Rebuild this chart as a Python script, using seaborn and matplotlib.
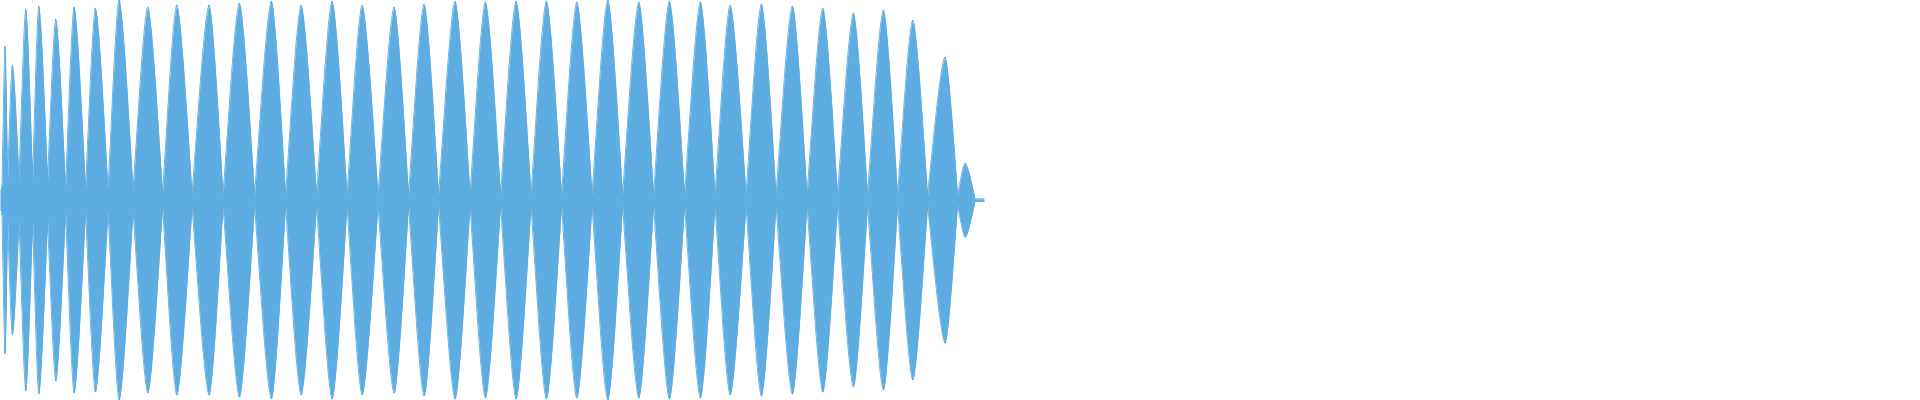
import numpy as np
import pandas as pd
import matplotlib
matplotlib.use("Agg")
import matplotlib.pyplot as plt
import seaborn as sns

# ---- data (x in sample-position units, amplitude normalised to 1) ----
# envelope minima (nodes) between the beating lobes
lobe_nodes = [0, 2, 7.5, 19, 32.5, 47.5, 65.5, 85.5, 108, 133, 162.5, 192, 223, 254.5,
              285.5, 316.5, 347, 378, 408.5, 438.5, 470, 500.5, 531, 561.5, 592, 622.5,
              653.5, 684.5, 715, 746, 776, 807, 837.5, 867.5, 897.5, 927.5, 957.5, 975]
# position of each lobe's maximum
lobe_peak_pos = [1, 5, 12.3, 25.7, 38.7, 55.7, 74, 95.3, 119, 147.7, 176.7, 209, 239.3,
                 271.3, 301, 332, 362, 394, 424, 455, 485.3, 516, 546.3, 576.7, 607.7,
                 638.7, 669.3, 700.3, 730, 761.3, 792.3, 822.7, 853.3, 883.3, 912.7,
                 945, 965]
# maximum amplitude of each lobe
lobe_peaks = [0.05, 0.77, 0.675, 0.955, 0.97, 0.905, 0.965, 0.96, 1.0, 0.965, 0.975,
              0.975, 0.985, 0.995, 0.975, 0.995, 0.975, 0.965, 0.98, 0.995, 0.99,
              0.995, 0.995, 0.99, 1.0, 0.99, 0.995, 0.99, 0.975, 0.98, 0.97, 0.96,
              0.935, 0.95, 0.90, 0.715, 0.185]
# residual amplitude at each node
node_floor = [0.05, 0.08, 0.10, 0.10, 0.10, 0.10, 0.055, 0.055, 0.05, 0.05, 0.03, 0.03,
              0.025, 0.025, 0.025, 0.025, 0.025, 0.025, 0.025, 0.025, 0.025, 0.025,
              0.025, 0.025, 0.025, 0.025, 0.025, 0.025, 0.025, 0.025, 0.025, 0.025,
              0.025, 0.025, 0.025, 0.025, 0.025, 0.006]
tail_end = 984
tail_level = 0.006

# ---- styling: colour and the visual curvature of one lobe ----
WAVE_COLOR = "#5DADE2"
LOBE_CURVE = 0.78

xs, env = [], []
for i in range(len(lobe_peaks)):
    a, b, c = lobe_nodes[i], lobe_nodes[i + 1], lobe_peak_pos[i]
    fa, fb = node_floor[i], node_floor[i + 1]
    x = np.linspace(a, b, 80, endpoint=False)
    s = np.where(x <= c, (c - x) / max(c - a, 1e-9), (x - c) / max(b - c, 1e-9))
    s = np.clip(s, 0, 1)
    floor = np.where(x <= c, fa, fb)
    shape = np.cos(np.pi / 2 * s ** LOBE_CURVE)
    y = floor + (lobe_peaks[i] - floor) * shape
    xs.append(x)
    env.append(y)
xs.append(np.array([lobe_nodes[-1], tail_end]))
env.append(np.array([tail_level, tail_level]))
xs = np.concatenate(xs)
env = np.concatenate(env)

df = pd.DataFrame({"pos": np.concatenate([xs, xs]),
                   "amp": np.concatenate([env, -env]),
                   "side": ["upper"] * len(xs) + ["lower"] * len(xs)})

sns.set_theme(style="white")
fig = plt.figure(figsize=(19.2, 4), dpi=100)
ax = fig.add_axes([0, 0, 1, 1])
ax.fill_between(xs, -env, env, color=WAVE_COLOR, linewidth=0, antialiased=False)
sns.lineplot(data=df, x="pos", y="amp", units="side", estimator=None, sort=False,
             color=WAVE_COLOR, linewidth=0.6, ax=ax, legend=False)
ax.set_xlim(0, 1920)
ax.set_ylim(-1.0, 1.0)
ax.axis("off")
fig.savefig("out.png", dpi=100, facecolor="white")
